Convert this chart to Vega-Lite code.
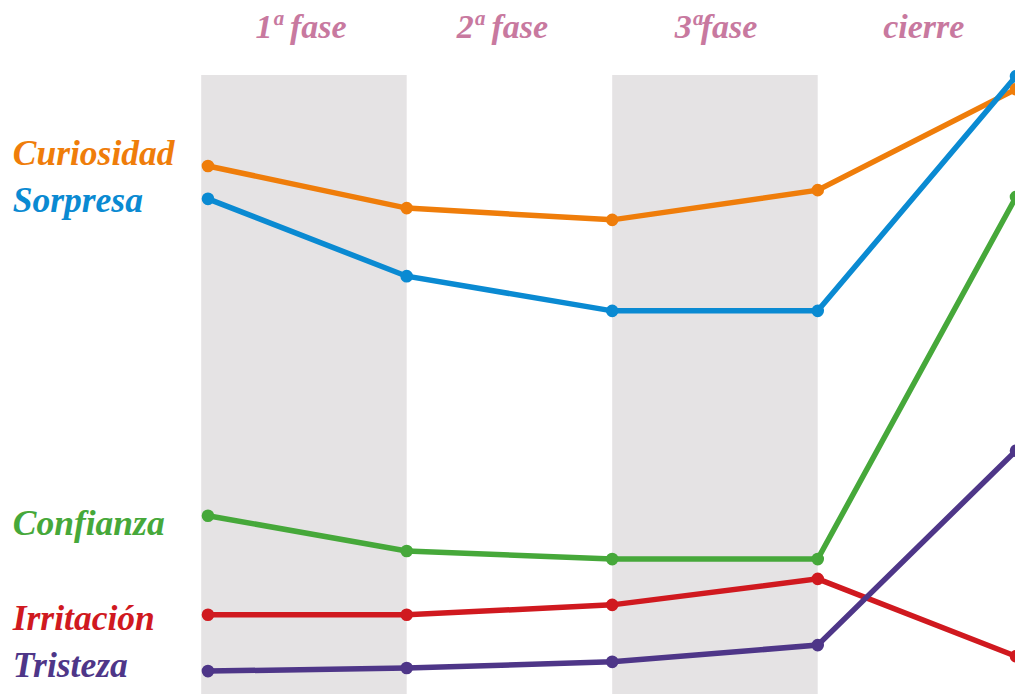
{
  "$schema": "https://vega.github.io/schema/vega-lite/v6.json",
  "width": 1015,
  "height": 694,
  "padding": 0,
  "autosize": {"type": "none"},
  "background": "white",
  "config": {"view": {"stroke": null}},
  "datasets": {
    "bands": [{"inicio": 0, "fin": 1}, {"inicio": 2, "fin": 3}],
    "fases": [
      {"fase": "1ª fase", "pos": 0.486},
      {"fase": "2ª fase", "pos": 1.466},
      {"fase": "3ªfase", "pos": 2.505},
      {"fase": "cierre", "pos": 3.516}
    ],
    "etiquetas": [
      {"emocion": "Curiosidad", "nivel": 85.46},
      {"emocion": "Sorpresa", "nivel": 77.92},
      {"emocion": "Confianza", "nivel": 25.69},
      {"emocion": "Irritación", "nivel": 10.34},
      {"emocion": "Tristeza", "nivel": 2.79}
    ],
    "serie": [
      {"emocion": "Curiosidad", "t": 0.033, "valor": 85.3},
      {"emocion": "Curiosidad", "t": 1, "valor": 78.5},
      {"emocion": "Curiosidad", "t": 2, "valor": 76.6},
      {"emocion": "Curiosidad", "t": 3, "valor": 81.4},
      {"emocion": "Curiosidad", "t": 3.965, "valor": 97.7},
      {"emocion": "Sorpresa", "t": 0.033, "valor": 80.0},
      {"emocion": "Sorpresa", "t": 1, "valor": 67.5},
      {"emocion": "Sorpresa", "t": 2, "valor": 61.9},
      {"emocion": "Sorpresa", "t": 3, "valor": 61.9},
      {"emocion": "Sorpresa", "t": 3.965, "valor": 99.8},
      {"emocion": "Confianza", "t": 0.033, "valor": 28.8},
      {"emocion": "Confianza", "t": 1, "valor": 23.1},
      {"emocion": "Confianza", "t": 2, "valor": 21.8},
      {"emocion": "Confianza", "t": 3, "valor": 21.8},
      {"emocion": "Confianza", "t": 3.965, "valor": 80.3},
      {"emocion": "Irritación", "t": 0.033, "valor": 12.8},
      {"emocion": "Irritación", "t": 1, "valor": 12.8},
      {"emocion": "Irritación", "t": 2, "valor": 14.4},
      {"emocion": "Irritación", "t": 3, "valor": 18.6},
      {"emocion": "Irritación", "t": 3.965, "valor": 6.1},
      {"emocion": "Tristeza", "t": 0.033, "valor": 3.7},
      {"emocion": "Tristeza", "t": 1, "valor": 4.2},
      {"emocion": "Tristeza", "t": 2, "valor": 5.2},
      {"emocion": "Tristeza", "t": 3, "valor": 7.9},
      {"emocion": "Tristeza", "t": 3.965, "valor": 39.3}
    ]
  },
  "layer": [
    {
      "data": {"name": "bands"},
      "mark": {"type": "rect", "color": "#e5e3e4"},
      "encoding": {
        "x": {"field": "inicio", "type": "quantitative", "scale": {"domain": [-0.979, 3.96], "nice": false, "zero": false}, "axis": null},
        "x2": {"field": "fin"},
        "y": {"datum": 0, "type": "quantitative", "scale": {"domain": [0, 112.12], "nice": false, "zero": false}, "axis": null},
        "y2": {"datum": 100}
      }
    },
    {
      "data": {"name": "serie"},
      "mark": {"type": "line", "strokeWidth": 5.5, "point": {"filled": true, "size": 160, "opacity": 1}},
      "encoding": {
        "x": {"field": "t", "type": "quantitative"},
        "y": {"field": "valor", "type": "quantitative"},
        "color": {
          "field": "emocion", "type": "nominal", "legend": null,
          "scale": {
            "domain": ["Curiosidad", "Sorpresa", "Confianza", "Irritación", "Tristeza"],
            "range": ["#ef7d0a", "#0a8ad2", "#46a83a", "#d0191f", "#4e3688"]
          }
        }
      }
    },
    {
      "data": {"name": "etiquetas"},
      "mark": {"type": "text", "align": "left", "baseline": "alphabetic", "font": "Liberation Serif", "fontSize": 35.5, "fontWeight": "bold", "fontStyle": "italic"},
      "encoding": {
        "x": {"datum": -0.917, "type": "quantitative"},
        "y": {"field": "nivel", "type": "quantitative"},
        "text": {"field": "emocion"},
        "color": {"field": "emocion", "type": "nominal", "legend": null}
      }
    },
    {
      "data": {"name": "fases"},
      "mark": {"type": "text", "align": "center", "baseline": "alphabetic", "font": "Liberation Serif", "fontSize": 34, "fontWeight": "bold", "fontStyle": "italic", "color": "#c8799f"},
      "encoding": {
        "x": {"field": "pos", "type": "quantitative"},
        "y": {"datum": 105.93, "type": "quantitative"},
        "text": {"field": "fase"}
      }
    }
  ]
}
